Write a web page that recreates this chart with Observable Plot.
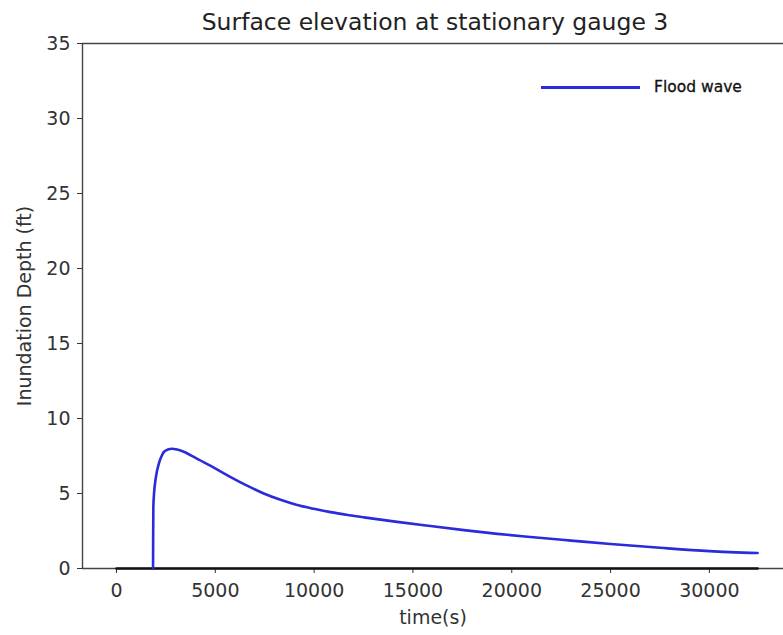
<!DOCTYPE html>
<html>
<head>
<meta charset="utf-8">
<script src="https://cdn.jsdelivr.net/npm/d3@7"></script>
<script src="https://cdn.jsdelivr.net/npm/@observablehq/plot@0.6"></script>
<style>
  html, body { margin: 0; padding: 0; background: #fff; overflow: hidden; }
  #wrap { position: relative; width: 783px; height: 635px; overflow: hidden; font-family: "DejaVu Sans", sans-serif; }
  #title { position: absolute; top: 8px; left: 82px; width: 706px; text-align: center; font-size: 23.5px; color: #222; line-height: normal; z-index: 2; white-space: nowrap; }
  #spacer { height: 35px; }
  #legend { position: absolute; top: 77px; left: 541px; height: 20px; display: flex; align-items: center; z-index: 2; }
  #legend .sw { width: 99px; height: 3px; background: #2b2bdb; margin-right: 14px; }
  #legend .lb { font-size: 15.5px; color: #111; font-weight: 500; -webkit-text-stroke: 0.3px #111; }
</style>
</head>
<body>
<div id="wrap">
  <div id="title">Surface elevation at stationary gauge 3</div>
  <div id="spacer"></div>
  <div id="chart"></div>
  <div id="legend"><div class="sw"></div><div class="lb">Flood wave</div></div>
</div>
<script>
// Flood wave series (time in s, inundation depth in ft)
const timeS = [1850, 1855, 1865, 1900, 1970, 2050, 2140, 2250, 2390, 2600, 2810, 3000, 3240, 4000, 4925, 5800, 6610, 7450, 8300, 9100, 9985, 10830, 11700, 12520, 14200, 15890, 17580, 19270, 20950, 23000, 25000, 27500, 30000, 32440];
const depthFt = [0, 2.0, 4.1, 5.0, 5.87, 6.5, 6.98, 7.4, 7.76, 7.93, 7.98, 7.95, 7.87, 7.38, 6.72, 6.08, 5.52, 5.0, 4.58, 4.25, 3.98, 3.76, 3.57, 3.41, 3.11, 2.83, 2.56, 2.31, 2.1, 1.86, 1.63, 1.38, 1.16, 1.03];
// Baseline (zero) series drawn in black
const baseTime = [0, 32440];
const baseDepth = [0, 0];

const xTicks = [0, 5000, 10000, 15000, 20000, 25000, 30000];
const yTicks = [0, 5, 10, 15, 20, 25, 30, 35];
const xDomain = [-1720, 33750];
const yDomain = [0, 35];

const flood = timeS.map((t, i) => ({t, d: depthFt[i]}));
const base = baseTime.map((t, i) => ({t, d: baseDepth[i]}));

const chart = Plot.plot({
  width: 783,
  height: 600,
  marginTop: 8,
  marginBottom: 67,
  marginLeft: 82,
  marginRight: 0,
  style: { fontFamily: "DejaVu Sans, sans-serif", fontSize: "19px", color: "#333", background: "transparent", overflow: "visible" },
  x: { domain: xDomain, ticks: xTicks, tickSize: 5, tickPadding: 10, tickFormat: d => String(d), label: "time(s)", labelAnchor: "center", labelOffset: 55, labelArrow: "none" },
  y: { domain: yDomain, ticks: yTicks, tickSize: 5, tickPadding: 7, tickFormat: d => String(d), label: "Inundation Depth (ft)", labelAnchor: "center", labelOffset: 65, labelArrow: "none" },
  marks: [
    Plot.ruleY([yDomain[0], yDomain[1]], {stroke: "#444", strokeWidth: 1.4}),
    Plot.ruleX([xDomain[0]], {stroke: "#444", strokeWidth: 1.4}),
    Plot.line(base, {x: "t", y: "d", stroke: "#111", strokeWidth: 2.6}),
    Plot.line(flood, {x: "t", y: "d", stroke: "#2b2bdb", strokeWidth: 2.6, curve: "monotone-x"})
  ]
});
document.getElementById("chart").appendChild(chart);
</script>
</body>
</html>
